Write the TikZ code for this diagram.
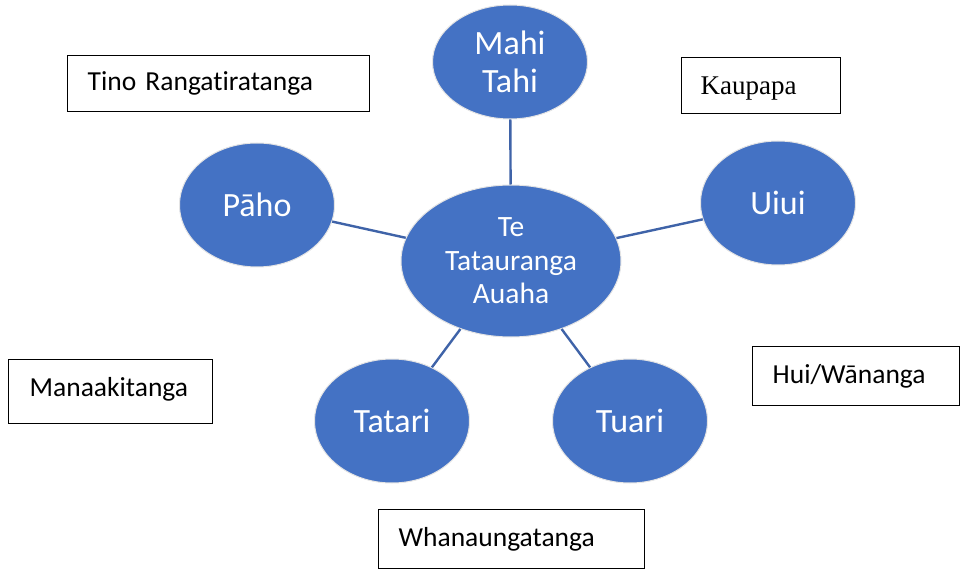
\documentclass[tikz,border=0pt]{standalone}
\usepackage{fontspec}
\setmainfont{Carlito}[RawFeature={-liga}]
\newfontfamily\timesfont{Liberation Serif}
\usetikzlibrary{shapes.geometric}
\definecolor{officeblue}{HTML}{4472C4}
\definecolor{linkblue}{HTML}{3F63A8}
\definecolor{rimgray}{HTML}{E4E4E4}
\tikzset{
  bubble/.style={ellipse, fill=officeblue, draw=rimgray, line width=1pt,
    inner sep=0pt, text=white, align=center,
    minimum width=155pt, minimum height=124pt,
    font=\fontsize{34}{38}\selectfont},
  hub/.style={bubble, minimum width=220pt, minimum height=152pt,
    font=\fontsize{29.5}{33.5}\selectfont},
  link/.style={draw=linkblue, line width=2.4pt},
  labelbox/.style={draw=black, line width=1.4pt, anchor=north west,
    inner xsep=20pt, inner ysep=0pt, align=left,
    font=\fontsize{27.5}{30}\selectfont}
}
\begin{document}
\begin{tikzpicture}[x=1pt,y=-1pt]
\useasboundingbox (0,0) rectangle (961,569);
% bubbles
\node[hub] (hub) at (511,261) {Te\\Tatauranga\\Auaha};
\node[bubble, minimum height=114pt] (mahi) at (510,62) {Mahi\\Tahi};
\node[bubble] (paho) at (257,205) {Pāho};
\node[bubble] (uiui) at (778,203) {Uiui};
\node[bubble] (tatari) at (392,421) {Tatari};
\node[bubble] (tuari) at (630,421) {Tuari};
% connectors
\draw[link] (mahi) -- (hub);
\draw[link] (paho) -- (hub);
\draw[link] (uiui) -- (hub);
\draw[link] (tatari) -- (hub);
\draw[link] (tuari) -- (hub);
% label boxes
\node[labelbox, minimum width=302pt, minimum height=56pt, text width=262pt] (tino) at (67,55) {Tino Rangatiratanga};
\node[labelbox, minimum width=159pt, minimum height=56pt, text width=121pt, inner xsep=19pt, font=\timesfont\fontsize{27}{30}\selectfont] (kaupapa) at (681,57) {\raisebox{-3pt}[\height][\depth]{Kaupapa}};
\node[labelbox, minimum width=204pt, minimum height=64pt, text width=162pt, inner xsep=21pt] (manaaki) at (8,359) {\raisebox{2pt}[\height][\depth]{Manaakitanga}};
\node[labelbox, minimum width=207pt, minimum height=59pt, text width=167pt] (hui) at (752,346) {Hui/Wānanga};
\node[labelbox, minimum width=266pt, minimum height=59pt, text width=226pt] (whanau) at (378,509) {Whanaungatanga};
\end{tikzpicture}
\end{document}
